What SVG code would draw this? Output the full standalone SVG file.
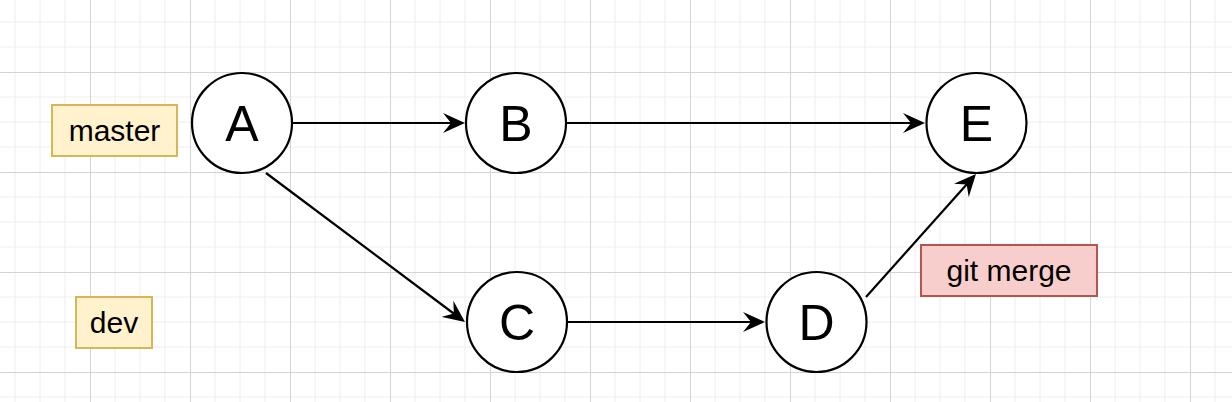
<svg xmlns="http://www.w3.org/2000/svg" width="1232" height="402" viewBox="0 0 1232 402">
  <style>
    .node circle { fill: #ffffff; stroke: #000000; stroke-width: 2.2; }
    .letter { font-family: "Liberation Sans", Arial, sans-serif; font-size: 50px; fill: #000000; text-anchor: middle; }
    .lbl { font-family: "Liberation Sans", Arial, sans-serif; font-size: 30px; fill: #000000; text-anchor: middle; }
    .yellow { fill: #fff2cc; stroke: #d6b656; stroke-width: 2; }
    .red { fill: #f8cecc; stroke: #b85450; stroke-width: 2; }
    .edge { fill: none; stroke: #000000; stroke-width: 2.2; marker-end: url(#arrow); }
  </style>
  <defs>
    <pattern id="grid" patternUnits="userSpaceOnUse" x="-10" y="-28" width="100" height="100">
      <path d="M25,0 V100 M50,0 V100 M75,0 V100 M0,25 H100 M0,50 H100 M0,75 H100" stroke="#eeeeee" stroke-width="1" fill="none"/>
      <path d="M0.5,0 V100 M0,0.5 H100" stroke="#d4d4d4" stroke-width="1" fill="none"/>
    </pattern>
    <marker id="arrow" viewBox="0 0 22 20" markerUnits="userSpaceOnUse" markerWidth="22" markerHeight="20" refX="12" refY="10" orient="auto">
      <path d="M22,10 L0,0 L8,10 L0,20 Z" fill="#000000"/>
    </marker>
  </defs>
  <rect width="1232" height="402" fill="#ffffff"/>
  <rect width="1232" height="402" fill="url(#grid)"/>

  <g id="connectors">
    <path class="edge" d="M292,123 L455,123"/>
    <path class="edge" d="M567,123 L915,123"/>
    <path class="edge" d="M266,173 L457,316"/>
    <path class="edge" d="M567,322 L755,322"/>
    <path class="edge" d="M866,297 L969.3,181.5"/>
  </g>

  <g id="label-master">
    <rect class="yellow" x="52" y="105" width="125" height="51"/>
    <text class="lbl" x="114.5" y="140.5">master</text>
  </g>
  <g id="label-dev">
    <rect class="yellow" x="76" y="297" width="76" height="51"/>
    <text class="lbl" x="114" y="333">dev</text>
  </g>
  <g id="label-git-merge">
    <rect class="red" x="921" y="245" width="176" height="51"/>
    <text class="lbl" x="1009" y="281">git merge</text>
  </g>

  <g id="node-A" class="node">
    <circle cx="242" cy="123" r="50"/>
    <text class="letter" x="242" y="141">A</text>
  </g>
  <g id="node-B" class="node">
    <circle cx="516" cy="123" r="50"/>
    <text class="letter" x="516" y="141">B</text>
  </g>
  <g id="node-E" class="node">
    <circle cx="976.5" cy="123" r="50"/>
    <text class="letter" x="976.5" y="141">E</text>
  </g>
  <g id="node-C" class="node">
    <circle cx="517" cy="322" r="50"/>
    <text class="letter" x="517" y="340">C</text>
  </g>
  <g id="node-D" class="node">
    <circle cx="816.5" cy="322" r="50"/>
    <text class="letter" x="816.5" y="340">D</text>
  </g>
</svg>
